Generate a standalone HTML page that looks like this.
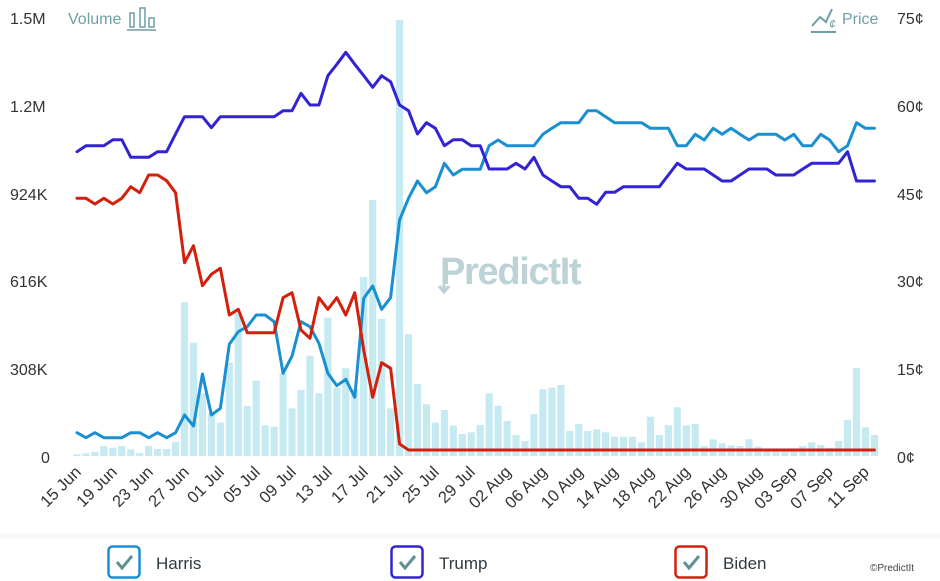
<!DOCTYPE html>
<html><head><meta charset="utf-8"><style>
html,body{margin:0;padding:0;background:#fff;width:940px;height:581px;overflow:hidden}
svg{display:block;font-family:"Liberation Sans",sans-serif}
</style></head><body>
<svg width="940" height="581" viewBox="0 0 940 581" xmlns="http://www.w3.org/2000/svg">
<rect width="940" height="581" fill="#fff"/>
<!-- watermark -->
<text x="440" y="284" font-size="38" font-weight="bold" fill="#bcd2d6" letter-spacing="-1.3">PredictIt</text>
<path d="M444 284 L444 292 M439 286 L444 292 L449 286" stroke="#bcd2d6" stroke-width="3" fill="none"/>
<!-- bars -->
<g transform="translate(77,0) scale(8.96,1)" fill="#c5eaf2">
<rect x="-0.4" y="454.3" width="0.8" height="1.7"/><rect x="0.6" y="453.3" width="0.8" height="2.7"/><rect x="1.6" y="452" width="0.8" height="4"/><rect x="2.6" y="446" width="0.8" height="10"/><rect x="3.6" y="447.7" width="0.8" height="8.3"/><rect x="4.6" y="446" width="0.8" height="10"/><rect x="5.6" y="449.3" width="0.8" height="6.7"/><rect x="6.6" y="453" width="0.8" height="3"/><rect x="7.6" y="446" width="0.8" height="10"/><rect x="8.6" y="449" width="0.8" height="7"/><rect x="9.6" y="449" width="0.8" height="7"/><rect x="10.6" y="442" width="0.8" height="14"/><rect x="11.6" y="302.3" width="0.8" height="153.7"/><rect x="12.6" y="342.7" width="0.8" height="113.3"/><rect x="13.6" y="393.3" width="0.8" height="62.7"/><rect x="14.6" y="413" width="0.8" height="43"/><rect x="15.6" y="422.7" width="0.8" height="33.3"/><rect x="16.6" y="362.7" width="0.8" height="93.3"/><rect x="17.6" y="313.3" width="0.8" height="142.7"/><rect x="18.6" y="406" width="0.8" height="50"/><rect x="19.6" y="380.7" width="0.8" height="75.3"/><rect x="20.6" y="425.3" width="0.8" height="30.7"/><rect x="21.6" y="426.7" width="0.8" height="29.3"/><rect x="22.6" y="373.3" width="0.8" height="82.7"/><rect x="23.6" y="408.3" width="0.8" height="47.7"/><rect x="24.6" y="390" width="0.8" height="66"/><rect x="25.6" y="355.7" width="0.8" height="100.3"/><rect x="26.6" y="393.3" width="0.8" height="62.7"/><rect x="27.6" y="317.7" width="0.8" height="138.3"/><rect x="28.6" y="387.7" width="0.8" height="68.3"/><rect x="29.6" y="368.3" width="0.8" height="87.7"/><rect x="30.6" y="389" width="0.8" height="67"/><rect x="31.6" y="277" width="0.8" height="179"/><rect x="32.6" y="200" width="0.8" height="256"/><rect x="33.6" y="319" width="0.8" height="137"/><rect x="34.6" y="408.3" width="0.8" height="47.7"/><rect x="35.6" y="20" width="0.8" height="436"/><rect x="36.6" y="334.3" width="0.8" height="121.7"/><rect x="37.6" y="384" width="0.8" height="72"/><rect x="38.6" y="404.3" width="0.8" height="51.7"/><rect x="39.6" y="422.7" width="0.8" height="33.3"/><rect x="40.6" y="410" width="0.8" height="46"/><rect x="41.6" y="425.7" width="0.8" height="30.3"/><rect x="42.6" y="434" width="0.8" height="22"/><rect x="43.6" y="432.3" width="0.8" height="23.7"/><rect x="44.6" y="425" width="0.8" height="31"/><rect x="45.6" y="393.3" width="0.8" height="62.7"/><rect x="46.6" y="405.7" width="0.8" height="50.3"/><rect x="47.6" y="421" width="0.8" height="35"/><rect x="48.6" y="435" width="0.8" height="21"/><rect x="49.6" y="441" width="0.8" height="15"/><rect x="50.6" y="414" width="0.8" height="42"/><rect x="51.6" y="389.3" width="0.8" height="66.7"/><rect x="52.6" y="387.7" width="0.8" height="68.3"/><rect x="53.6" y="385" width="0.8" height="71"/><rect x="54.6" y="431" width="0.8" height="25"/><rect x="55.6" y="424" width="0.8" height="32"/><rect x="56.6" y="431" width="0.8" height="25"/><rect x="57.6" y="429.3" width="0.8" height="26.7"/><rect x="58.6" y="432.3" width="0.8" height="23.7"/><rect x="59.6" y="436.7" width="0.8" height="19.3"/><rect x="60.6" y="436.7" width="0.8" height="19.3"/><rect x="61.6" y="436.7" width="0.8" height="19.3"/><rect x="62.6" y="442.3" width="0.8" height="13.7"/><rect x="63.6" y="416.7" width="0.8" height="39.3"/><rect x="64.6" y="435" width="0.8" height="21"/><rect x="65.6" y="425.3" width="0.8" height="30.7"/><rect x="66.6" y="407.3" width="0.8" height="48.7"/><rect x="67.6" y="425.3" width="0.8" height="30.7"/><rect x="68.6" y="424" width="0.8" height="32"/><rect x="69.6" y="446" width="0.8" height="10"/><rect x="70.6" y="439.3" width="0.8" height="16.7"/><rect x="71.6" y="443.3" width="0.8" height="12.7"/><rect x="72.6" y="445.3" width="0.8" height="10.7"/><rect x="73.6" y="446" width="0.8" height="10"/><rect x="74.6" y="439.3" width="0.8" height="16.7"/><rect x="75.6" y="446.7" width="0.8" height="9.3"/><rect x="76.6" y="450" width="0.8" height="6"/><rect x="77.6" y="450" width="0.8" height="6"/><rect x="78.6" y="450" width="0.8" height="6"/><rect x="79.6" y="448.3" width="0.8" height="7.7"/><rect x="80.6" y="446" width="0.8" height="10"/><rect x="81.6" y="442.3" width="0.8" height="13.7"/><rect x="82.6" y="445" width="0.8" height="11"/><rect x="83.6" y="447.7" width="0.8" height="8.3"/><rect x="84.6" y="441" width="0.8" height="15"/><rect x="85.6" y="420" width="0.8" height="36"/><rect x="86.6" y="368" width="0.8" height="88"/><rect x="87.6" y="427.3" width="0.8" height="28.7"/><rect x="88.6" y="435" width="0.8" height="21"/>
</g>
<g transform="translate(77,0) scale(8.96,1)" fill="none" stroke-width="3" stroke-linejoin="round" stroke-linecap="round">
<polyline vector-effect="non-scaling-stroke" stroke="#1a90d2" points="0,432.7 1,437.7 2,432.7 3,437.7 4,437.7 5,437.7 6,432.7 7,432.7 8,437.7 9,432.7 10,437.7 11,432.7 12,415 13,426 14,374 15,415 16,408.3 17,344.3 18,331.7 19,326.7 20,315 21,315 22,321.7 23,373.3 24,356 25,321.7 26,326.7 27,343.3 28,373.3 29,385.7 30,379.3 31,397.3 32,298.3 33,286 34,309.3 35,297.7 36,220 37,198.3 38,181 39,192.7 40,186.7 41,163.3 42,175 43,169.3 44,169.3 45,169.3 46,145.7 47,140 48,145.7 49,145.7 50,145.7 51,145.7 52,134.3 53,128.3 54,122.7 55,122.7 56,122.7 57,110.7 58,110.7 59,116.7 60,122.7 61,122.7 62,122.7 63,122.7 64,128.3 65,128.3 66,128.3 67,145.7 68,145.7 69,134.3 70,140 71,128.3 72,134.3 73,128.3 74,134.3 75,140 76,134.3 77,134.3 78,134.3 79,140 80,134.3 81,145.7 82,145.7 83,134.3 84,140 85,151.7 86,145.7 87,122.7 88,128.3 89,128.3"/>
<polyline vector-effect="non-scaling-stroke" stroke="#3223d4" points="0,151.7 1,145.7 2,145.7 3,145.7 4,139.7 5,139.7 6,157.3 7,157.3 8,157.3 9,151.7 10,151.7 11,134 12,116.7 13,116.7 14,116.7 15,127.7 16,116.7 17,116.7 18,116.7 19,116.7 20,116.7 21,116.7 22,116.7 23,110.7 24,110.7 25,93.3 26,105 27,105 28,75.7 29,64.3 30,52.3 31,64.3 32,75.7 33,87.3 34,75.7 35,81.7 36,105 37,110.7 38,134 39,122.7 40,128.3 41,145.7 42,139.7 43,139.7 44,145.7 45,145.7 46,169 47,169 48,169 49,163.3 50,169 51,157.3 52,175 53,181 54,186.7 55,186.7 56,198.3 57,198.3 58,204.3 59,192.3 60,192.3 61,186.7 62,186.7 63,186.7 64,186.7 65,186.7 66,175 67,163.3 68,169 69,169 70,169 71,175 72,181 73,181 74,175 75,169 76,169 77,169 78,175 79,175 80,175 81,169 82,163.3 83,163.3 84,163.3 85,163.3 86,151.7 87,181 88,181 89,181"/>
<polyline vector-effect="non-scaling-stroke" stroke="#d2200c" points="0,198.3 1,198.3 2,204 3,198.3 4,204 5,198.3 6,186.7 7,192.7 8,175 9,175 10,180.7 11,192.7 12,262.7 13,245.7 14,285.7 15,274.3 16,268.3 17,315 18,309.3 19,332.7 20,332.7 21,332.7 22,332.7 23,297.7 24,292.7 25,330 26,338.3 27,297.7 28,309.3 29,297.7 30,315 31,292.7 32,350 33,397.3 34,362.7 35,368.3 36,444 37,450 89,450"/>
</g>
<!-- axis labels -->
<g font-size="16" fill="#333">
<text x="10" y="24">1.5M</text><text x="10" y="112">1.2M</text><text x="10" y="200">924K</text><text x="10" y="287">616K</text><text x="10" y="375">308K</text><text x="41" y="463">0</text>
<text x="897" y="24">75¢</text><text x="897" y="112">60¢</text><text x="897" y="200">45¢</text><text x="897" y="287">30¢</text><text x="897" y="375">15¢</text><text x="897" y="463">0¢</text>
</g>
<text x="68" y="24" font-size="16" fill="#6e9ea6">Volume</text>
<g fill="none" stroke="#6e9ea6" stroke-width="1.5"><rect x="130" y="13" width="4" height="14"/><rect x="140" y="8" width="5" height="19"/><rect x="149" y="18" width="5" height="9"/><line x1="127" y1="30" x2="156" y2="30"/></g>
<text x="842" y="24" font-size="16" fill="#6e9ea6">Price</text>
<g fill="none" stroke="#6e9ea6" stroke-width="2"><polyline points="812,26 820,17 826,22 832,9"/><line x1="811" y1="32" x2="836" y2="32"/></g>
<text x="829" y="28" font-size="12" fill="#6e9ea6" font-style="italic">¢</text>
<!-- x labels -->
<g font-size="16.5" fill="#333" text-anchor="end">
<text transform="translate(82,473) rotate(-45)">15 Jun</text>
<text transform="translate(118,473) rotate(-45)">19 Jun</text>
<text transform="translate(154,473) rotate(-45)">23 Jun</text>
<text transform="translate(190,473) rotate(-45)">27 Jun</text>
<text transform="translate(225,473) rotate(-45)">01 Jul</text>
<text transform="translate(261,473) rotate(-45)">05 Jul</text>
<text transform="translate(297,473) rotate(-45)">09 Jul</text>
<text transform="translate(333,473) rotate(-45)">13 Jul</text>
<text transform="translate(369,473) rotate(-45)">17 Jul</text>
<text transform="translate(404,473) rotate(-45)">21 Jul</text>
<text transform="translate(440,473) rotate(-45)">25 Jul</text>
<text transform="translate(476,473) rotate(-45)">29 Jul</text>
<text transform="translate(512,473) rotate(-45)">02 Aug</text>
<text transform="translate(548,473) rotate(-45)">06 Aug</text>
<text transform="translate(584,473) rotate(-45)">10 Aug</text>
<text transform="translate(619,473) rotate(-45)">14 Aug</text>
<text transform="translate(655,473) rotate(-45)">18 Aug</text>
<text transform="translate(691,473) rotate(-45)">22 Aug</text>
<text transform="translate(727,473) rotate(-45)">26 Aug</text>
<text transform="translate(763,473) rotate(-45)">30 Aug</text>
<text transform="translate(798,473) rotate(-45)">03 Sep</text>
<text transform="translate(834,473) rotate(-45)">07 Sep</text>
<text transform="translate(870,473) rotate(-45)">11 Sep</text>
</g>
<!-- legend -->
<rect x="0" y="533" width="940" height="6" fill="#f6f8f9"/>
<g stroke-width="2.5" fill="none">
<rect x="108.5" y="546.5" width="31" height="31" rx="4" stroke="#1a90d2"/>
<rect x="391.5" y="546.5" width="31" height="31" rx="4" stroke="#3223d4"/>
<rect x="675.5" y="546.5" width="31" height="31" rx="4" stroke="#d2200c"/>
<g stroke="#5f9095" stroke-width="3"><polyline points="117,562 122,568 132,556"/><polyline points="400,562 405,568 415,556"/><polyline points="684,562 689,568 699,556"/></g>
</g>
<g font-size="17" fill="#2f3a40">
<text x="156" y="569">Harris</text><text x="439" y="569">Trump</text><text x="723" y="569">Biden</text>
</g>
<text x="870" y="571" font-size="10" fill="#444">©PredictIt</text>
</svg>
</body></html>
